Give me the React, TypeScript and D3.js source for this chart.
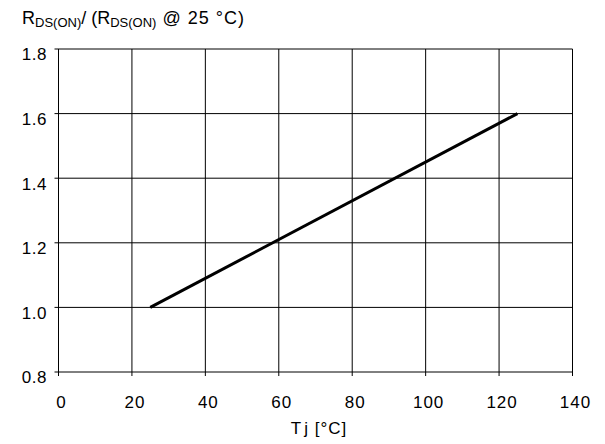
import React from "react";
import * as d3 from "d3";

const xTicks = [0, 20, 40, 60, 80, 100, 120, 140];
const yTicks = [0.8, 1.0, 1.2, 1.4, 1.6, 1.8];
const tempC = [25, 125];
const ratio = [1.0, 1.6];

export default function App() {
  const W = 605, H = 444;
  const x = d3.scaleLinear().domain([0, 140]).range([58.5, 572.5]);
  const y = d3.scaleLinear().domain([0.8, 1.8]).range([372, 49]);
  const line = d3.line<number>().x((_, i) => x(tempC[i])).y((d) => y(d));
  const font = "Liberation Sans, Arial, sans-serif";
  return (
    <svg width={W} height={H} style={{ position: "absolute", left: 0, top: 0, background: "#fff" }}
      fontFamily={font}>
      <rect x={0} y={0} width={W} height={H} fill="#fff" />
      {xTicks.map((t) => (
        <line key={"gx" + t} x1={x(t)} x2={x(t)} y1={y(1.8)} y2={y(0.8) + 4} stroke="#000" strokeWidth={1} />
      ))}
      {yTicks.map((t) => (
        <line key={"gy" + t} x1={x(0) - 4} x2={x(140)} y1={y(t)} y2={y(t)} stroke="#000" strokeWidth={1} />
      ))}
      {yTicks.map((t) => (
        <text key={"ty" + t} x={47} y={y(t) + 5.5} dy="0.35em" textAnchor="end" fontSize={17} fill="#000" letterSpacing={0.5}>
          {t.toFixed(1)}
        </text>
      ))}
      {xTicks.map((t) => (
        <text key={"tx" + t} x={x(t) + 3} y={402} dy="0.35em" textAnchor="middle" fontSize={17} fill="#000" letterSpacing={1}>
          {t}
        </text>
      ))}
      <text x={319} y={428} dy="0.35em" textAnchor="middle" fontSize={17} fill="#000" letterSpacing={1}>
        T<tspan dx={2}>j [°C]</tspan>
      </text>
      <path d={line(ratio) || ""} fill="none" stroke="#000" strokeWidth={3} />
      <text x={22} y={24} fontSize={18} fill="#000">
        R<tspan fontSize={13} dy={3}>DS(ON)</tspan>
        <tspan dy={-3}>/ (R</tspan>
        <tspan fontSize={13} dy={3}>DS(ON)</tspan>
        <tspan dy={-3} letterSpacing={1}> @  25 °C)</tspan>
      </text>
    </svg>
  );
}
